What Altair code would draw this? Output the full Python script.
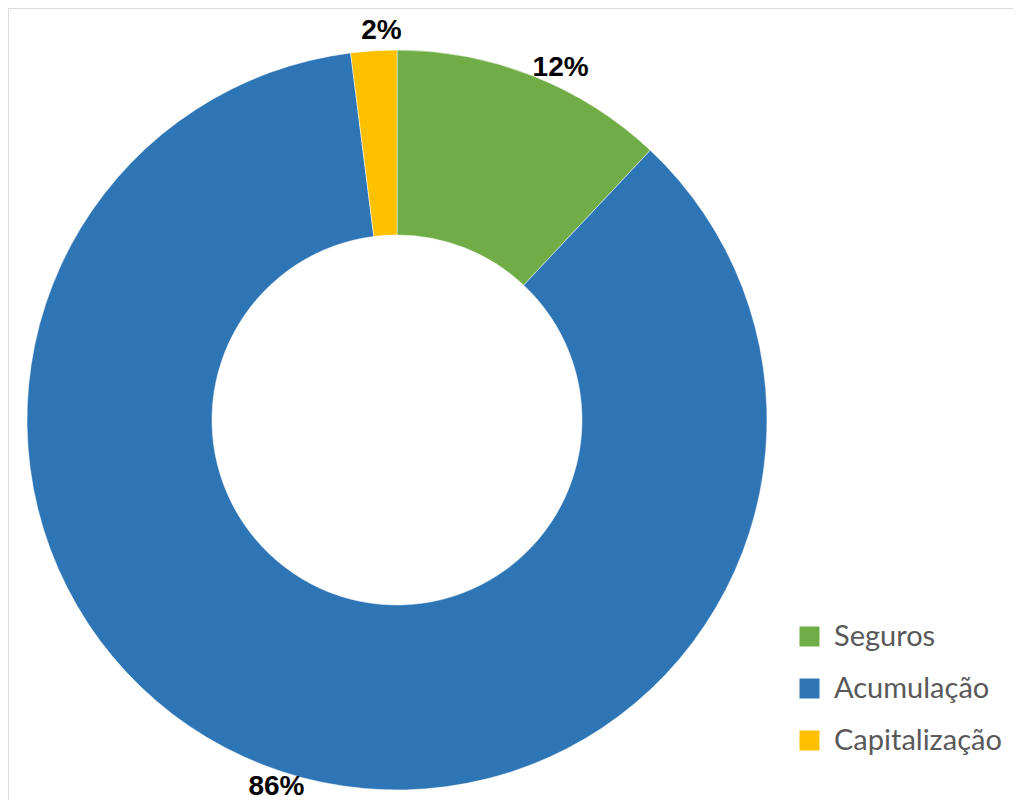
import altair as alt
import pandas as pd

categories = ["Seguros", "Acumulação", "Capitalização"]
values = [12, 86, 2]
labels = ["12%", "86%", "2%"]
colors = ["#70AD47", "#2E75B6", "#FFC000"]

df = pd.DataFrame({"cat": categories, "val": values, "lab": labels, "ord": [0, 1, 2]})

cx, cy = 389, 412
total = sum(values)

base = alt.Chart(df).transform_stack(
    stack="val", groupby=[], as_=["v0", "v1"], sort=[alt.SortField("ord", order="ascending")]
).transform_calculate(mid="(datum.v0 + datum.v1) / 2")

theta_scale = alt.Scale(domain=[0, total], range=[0, 6.283185307179586])

arcs = base.mark_arc(outerRadius=370, innerRadius=185, stroke="white", strokeWidth=0.5).encode(
    theta=alt.Theta("v0:Q", scale=theta_scale),
    theta2="v1:Q",
    x=alt.value(cx), y=alt.value(cy),
    color=alt.Color(
        "cat:N",
        scale=alt.Scale(domain=categories, range=colors),
        legend=alt.Legend(
            title=None, orient="none", legendX=787, legendY=614,
            symbolType="square", symbolSize=400, symbolStrokeWidth=0,
            labelFontSize=29, labelColor="#595959", labelFont="Lato",
            rowPadding=22, labelOffset=10, labelLimit=400,
        ),
        sort=categories,
    ),
)

def label_layer(cat, dx, dy):
    return base.transform_filter(alt.datum.cat == cat).mark_text(
        radius=390, fontSize=28, fontWeight="bold", font="Liberation Sans",
        color="black", dx=dx, dy=dy,
    ).encode(
        theta=alt.Theta("mid:Q", scale=theta_scale),
        x=alt.value(cx), y=alt.value(cy), text="lab:N",
    )

texts = [
    label_layer("Seguros", 20, 11),
    label_layer("Acumulação", 0, -4),
    label_layer("Capitalização", 9, 0),
]

chart = alt.layer(arcs, *texts).properties(
    width=1005, height=792, padding=0, autosize=alt.AutoSizeParams(type="none")
).configure_view(strokeWidth=0, stroke="transparent").configure(background="white")

chart.save("out.html", embed_options={"renderer": "svg", "actions": False})
